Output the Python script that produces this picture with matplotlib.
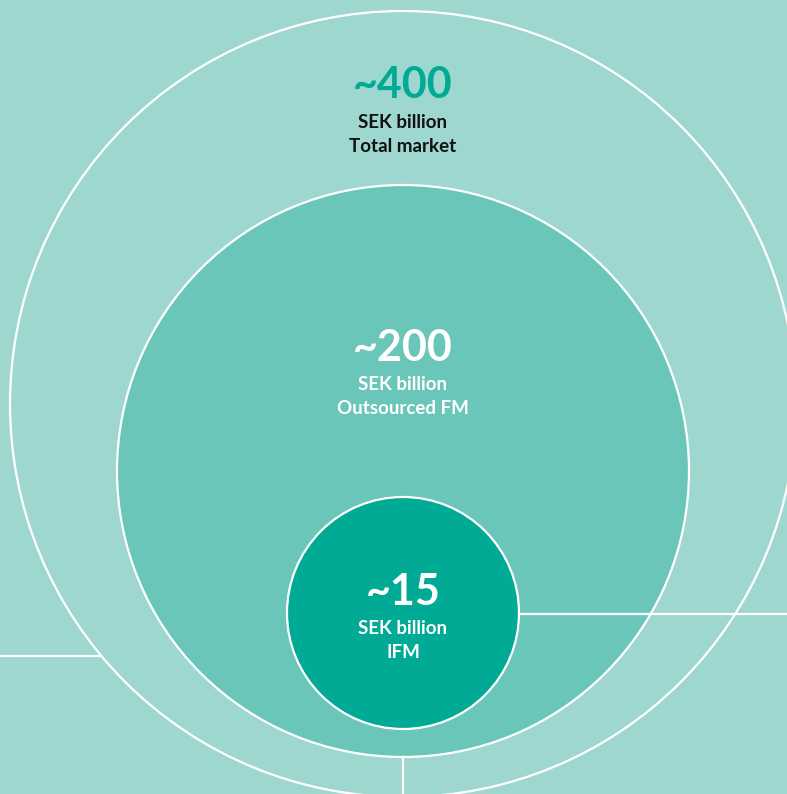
import matplotlib.pyplot as plt
from matplotlib.patches import Circle

# market sizes (SEK billion)
values = ['~400', '~200', '~15']
subtitles = ['Total market', 'Outsourced FM', 'IFM']
unit = 'SEK billion'

plt.rcParams['font.family'] = ['Lato', 'DejaVu Sans']

fig = plt.figure(figsize=(7.87, 7.94), dpi=100)
ax = fig.add_axes([0, 0, 1, 1])
ax.set_xlim(0, 787)
ax.set_ylim(794, 0)
ax.set_aspect('equal')
ax.axis('off')

bg = '#9ed7cf'
fig.patch.set_facecolor(bg)

# circles: (cx, cy, r, fill)
circles = [(403, 404, 393, bg), (403, 471, 286, '#6bc6ba'), (403, 613, 116, '#00aa95')]

# connector lines behind circles
ax.plot([0, 103], [656, 656], color='white', lw=1.6, zorder=1)
ax.plot([519, 787], [614, 614], color='white', lw=1.6, zorder=4)
ax.plot([403, 403], [757, 794], color='white', lw=1.6, zorder=4)

for i, (cx, cy, r, c) in enumerate(circles):
    ax.add_patch(Circle((cx, cy), r, facecolor=c, edgecolor='white', lw=1.6, zorder=2 + i * 0.5))

# labels
num_y = [85, 348, 592]
num_col = ['#00aa95', 'white', 'white']
txt_col = ['#111111', 'white', 'white']
for i in range(3):
    ax.text(403, num_y[i], values[i], ha='center', va='center', fontsize=31,
            fontweight='bold', color=num_col[i], zorder=5)
    ax.text(403, num_y[i] + 37, unit, ha='center', va='center', fontsize=13.5,
            fontweight='bold', color=txt_col[i], zorder=5)
    ax.text(403, num_y[i] + 61, subtitles[i], ha='center', va='center', fontsize=13.5,
            fontweight='bold', color=txt_col[i], zorder=5)

fig.savefig('out.png', dpi=100, facecolor=bg)
